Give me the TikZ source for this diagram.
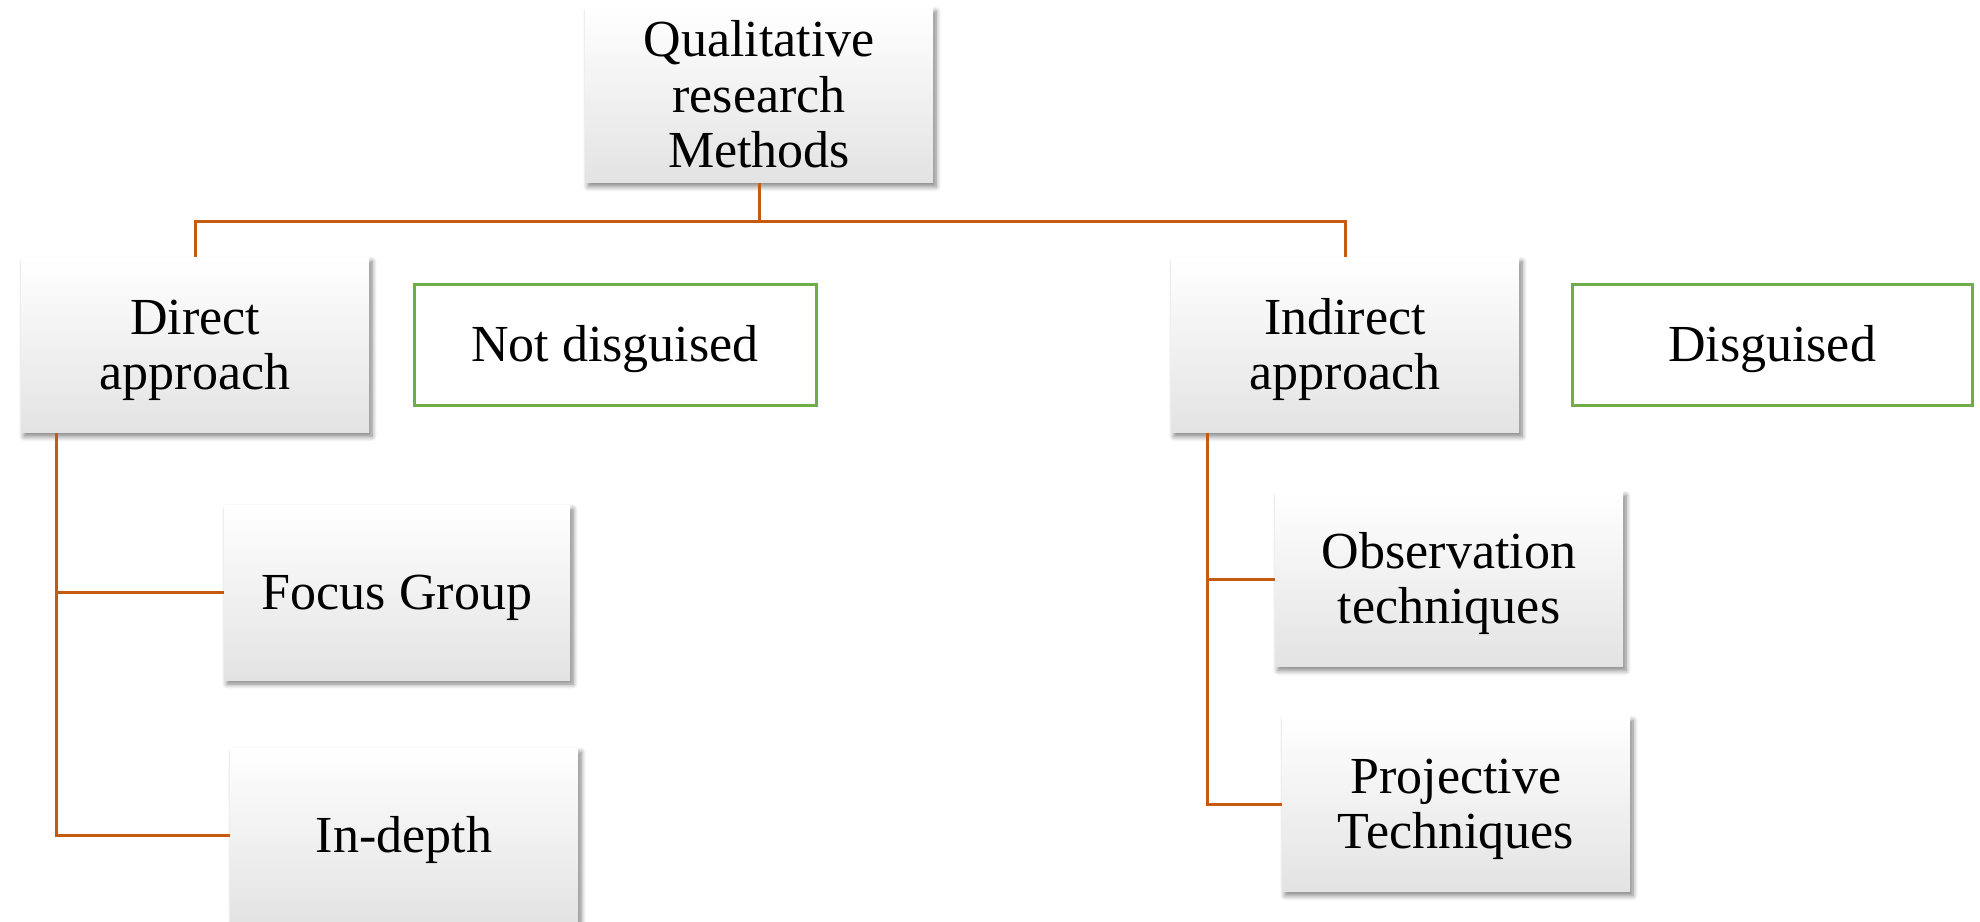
\documentclass[tikz,border=0pt]{standalone}
\usepackage{fontspec}
\setmainfont{Liberation Serif}
\usetikzlibrary{shadows.blur}
\definecolor{linkorange}{RGB}{197,90,17}
\definecolor{tagreen}{RGB}{112,173,71}
% invisible strut that gives every first line the same height
\newcommand\capline{\rule{0pt}{45.5pt}}
\begin{document}
\begin{tikzpicture}[x=1pt,y=-1pt,
  textgrid/.style={font=\fontsize{52}{55.5}\selectfont,
    execute at end node={\rule[-11.5pt]{0pt}{0pt}}},
  card/.style={rectangle, minimum width=348pt, minimum height=175pt,
    inner sep=0pt, align=center, textgrid,
    top color=white, middle color=white, bottom color=black!11,
    blur shadow={shadow xshift=3pt, shadow yshift=-4pt,
      shadow blur radius=5pt, shadow blur steps=6, shadow opacity=50}},
  tag/.style={rectangle, draw=tagreen, line width=3pt, fill=white,
    minimum height=121pt, inner sep=0pt, align=center, textgrid},
  link/.style={draw=linkorange, line width=3pt}]
\useasboundingbox (0,0) rectangle (1980,921);

% tree nodes
\node[card] (Q)  at (759,95)    {\capline Qualitative\\research\\Methods};
\node[card] (D)  at (195,345)   {\capline Direct\\approach};
\node[card] (I)  at (1345,345)  {\capline Indirect\\approach};
\node[card, minimum width=346pt] (F) at (397,592.5) {\capline Focus Group};
\node[card] (ID) at (404,835.5) {\capline In-depth};
\node[card] (O)  at (1449,579)  {\capline Observation\\techniques};
\node[card] (P)  at (1456,804)  {\capline Projective\\Techniques};

% side labels
\node[tag, minimum width=402pt] (ND) at (615,344.5)  {\capline Not disguised};
\node[tag, minimum width=400pt] (DG) at (1772,344.5) {\capline Disguised};

% bus and rail positions
\coordinate (bus) at (0,221);
\coordinate (lrail) at (56,0);
\coordinate (rrail) at (1207,0);

% connectors
\draw[link] (Q.south) -- (Q.south |- bus) -| (D.north);
\draw[link] (Q.south |- bus) -| (I.north);
\draw[link] (D.south -| lrail) |- (F.west);
\draw[link] (D.south -| lrail) |- (ID.west);
\draw[link] (I.south -| rrail) |- (O.west);
\draw[link] (I.south -| rrail) |- (P.west);
\end{tikzpicture}
\end{document}
